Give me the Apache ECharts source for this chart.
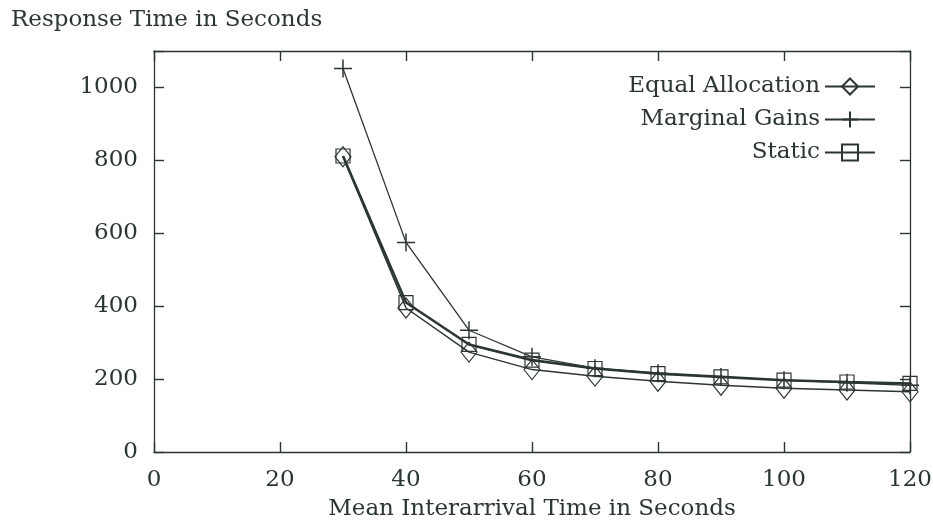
<!DOCTYPE html>
<html>
<head>
<meta charset="utf-8">
<script src="https://cdn.jsdelivr.net/npm/echarts@6/dist/echarts.min.js"></script>
<style>
  html, body { margin: 0; padding: 0; background: #ffffff; }
  #chart { width: 933px; height: 523px; }
</style>
</head>
<body>
<div id="chart"></div>
<script>
// Response time vs mean interarrival time

const interarrival = [30, 40, 50, 60, 70, 80, 90, 100, 110, 120];
const equalAllocation = [810, 395, 274, 226, 208, 194, 183, 175, 170, 165];
const marginalGains = [1052, 575, 334, 261, 230, 216, 206, 197, 190, 183];
const staticAlloc = [812, 410, 295, 252, 229, 215, 206, 197, 192, 188];
const xTicks = [0, 20, 40, 60, 80, 100, 120];
const yTicks = [0, 200, 400, 600, 800, 1000];

const ink = '#2c3630';
const serif = 'DejaVu Serif';
const plusPath = 'path://M5,0L5,10M0,5L10,5';

const chart = echarts.init(document.getElementById('chart'));

const pairs = (ys) => interarrival.map((x, i) => [x, ys[i]]);

// every side of the frame carries inward ticks, like the gnuplot border
function frameAxis() {
    return {
        axisLine: { show: true, onZero: false, lineStyle: { color: ink, width: 1.3 } },
        axisTick: { show: true, inside: true, length: 10, lineStyle: { color: ink, width: 1.4 } },
        splitLine: { show: false },
    };
}

const option = {
    animation: false,
    backgroundColor: '#ffffff',
    title: {
        text: 'Response Time in Seconds',
        left: 6,
        top: 4,
        textStyle: { fontFamily: serif, fontSize: 23, fontWeight: 'normal', color: ink },
    },
    legend: {
        orient: 'vertical',
        right: 52,
        top: 70,
        align: 'right',
        itemWidth: 50,
        itemHeight: 20,
        itemGap: 10,
        textStyle: { fontFamily: serif, fontSize: 23, color: ink },
        data: ['Equal Allocation', 'Marginal Gains', 'Static'],
    },
    grid: { left: 154, right: 23, top: 51, bottom: 71, outerBoundsMode: 'none' },
    xAxis: [
        {
            ...frameAxis(),
            type: 'value',
            min: 0,
            max: 120,
            interval: 20,
            position: 'bottom',
            name: 'Mean Interarrival Time in Seconds',
            nameLocation: 'middle',
            nameGap: 46,
            nameTextStyle: { fontFamily: serif, fontSize: 23, color: ink },
            axisLabel: {
                margin: 17,
                fontFamily: serif,
                fontSize: 23,
                color: ink,
                formatter: (v) => (xTicks.includes(v) ? String(v) : ''),
            },
        },
        {
            ...frameAxis(),
            type: 'value',
            min: 0,
            max: 120,
            interval: 20,
            position: 'top',
            axisLabel: { show: false },
        },
    ],
    yAxis: [
        {
            ...frameAxis(),
            type: 'value',
            min: 0,
            max: 1100,
            interval: 200,
            position: 'left',
            axisLabel: {
                margin: 16,
                fontFamily: serif,
                fontSize: 23,
                color: ink,
                formatter: (v) => (yTicks.includes(v) ? String(v) : ''),
            },
        },
        {
            ...frameAxis(),
            type: 'value',
            min: 0,
            max: 1100,
            interval: 200,
            position: 'right',
            axisLabel: { show: false },
        },
    ],
    series: [
        {
            name: 'Equal Allocation',
            type: 'line',
            data: pairs(equalAllocation),
            symbol: 'diamond',
            symbolSize: [16, 20],
            lineStyle: { color: ink, width: 1.5 },
            itemStyle: { color: 'transparent', borderColor: ink, borderWidth: 1.2 },
        },
        {
            name: 'Marginal Gains',
            type: 'line',
            data: pairs(marginalGains),
            symbol: plusPath,
            symbolSize: 18,
            lineStyle: { color: ink, width: 1.3 },
            itemStyle: { color: 'none', borderColor: ink, borderWidth: 1.5 },
        },
        {
            name: 'Static',
            type: 'line',
            data: pairs(staticAlloc),
            symbol: 'rect',
            symbolSize: 14,
            lineStyle: { color: ink, width: 2.6 },
            itemStyle: { color: 'transparent', borderColor: ink, borderWidth: 1.2 },
        },
    ],
};

chart.setOption(option);
</script>
</body>
</html>
